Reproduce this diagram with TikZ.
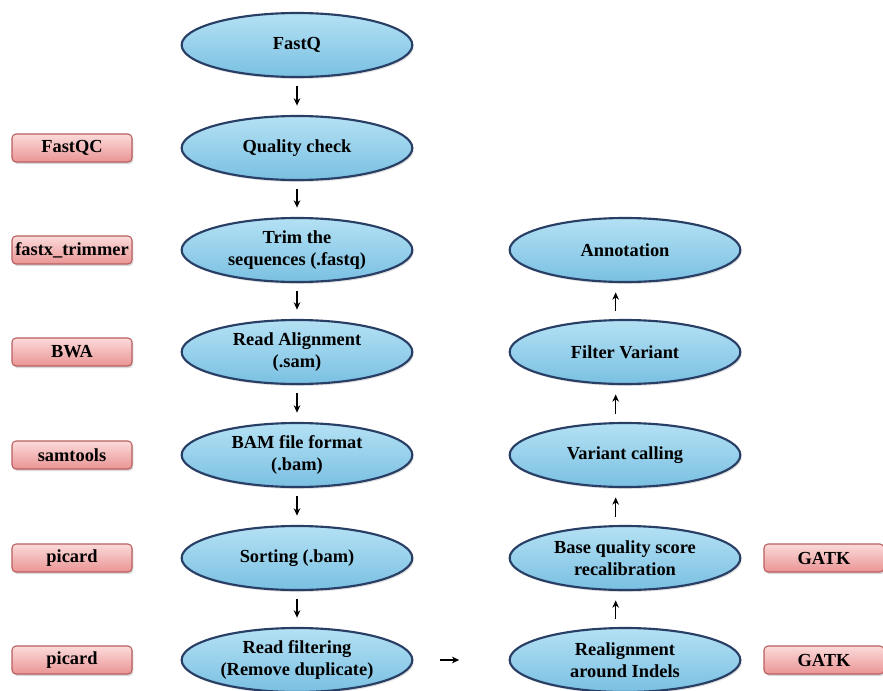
\documentclass[tikz,border=0pt]{standalone}
\usepackage{fontspec}
\setmainfont{Liberation Serif}
\usepackage{xcolor}
\usepackage{tikz}
\usetikzlibrary{shapes,arrows.meta,positioning,shadows}
\definecolor{ovaltop}{RGB}{180,225,244}
\definecolor{ovalbot}{RGB}{122,192,226}
\definecolor{ovaledge}{RGB}{40,62,100}
\definecolor{tooltop}{RGB}{252,218,218}
\definecolor{toolbot}{RGB}{234,148,148}
\definecolor{tooledge}{RGB}{185,95,95}
\tikzstyle{oval} = [ellipse, draw=ovaledge, line width=1.6pt, top color=ovaltop, bottom color=ovalbot, minimum width=173pt, minimum height=48pt, inner sep=0pt, align=center, font=\bfseries\fontsize{13.8}{16.5}\selectfont, drop shadow={opacity=0.25, shadow xshift=1pt, shadow yshift=-1.5pt}]
\tikzstyle{tool} = [rectangle, rounded corners=3pt, draw=tooledge, line width=0.8pt, top color=tooltop, bottom color=toolbot, minimum width=90pt, minimum height=21pt, inner sep=1pt, font=\bfseries\fontsize{13.8}{15}\selectfont, drop shadow={opacity=0.3, shadow xshift=1pt, shadow yshift=-1.5pt}]
\tikzstyle{arrow} = [-{Stealth[length=5.5pt,width=5pt]}, line width=0.9pt, shorten <=6pt, shorten >=7pt]

\begin{document}
\begin{tikzpicture}[x=0.75pt, y=-0.75pt]

% Page frame
\useasboundingbox (0,0) rectangle (883,690);

% Main pipeline (left column)
\node[oval] (fastq) at (297,45) {FastQ};
\node[oval] (qcheck) at (297,148) {Quality check};
\node[oval] (trim) at (297,250) {Trim the\\sequences (.fastq)};
\node[oval] (align) at (297,352) {Read Alignment\\(.sam)};
\node[oval] (bam) at (297,455) {BAM file format\\(.bam)};
\node[oval] (sort) at (297,558) {Sorting (.bam)};
\node[oval] (filter) at (297,660) {Read filtering\\(Remove duplicate)};

% Variant steps (right column)
\node[oval] (annot) at (625,250) {Annotation};
\node[oval] (filtvar) at (625,352) {Filter Variant};
\node[oval] (varcall) at (625,455) {Variant calling};
\node[oval] (bqsr) at (625,558) {Base quality score\\recalibration};
\node[oval] (realign) at (625,660) {Realignment\\around Indels};

% Tools
\node[tool] (fastqc) at (72,148) {FastQC};
\node[tool] (trimmer) at (72,250) {fastx\_trimmer};
\node[tool] (bwa) at (72,352) {BWA};
\node[tool] (samtools) at (72,455) {samtools};
\node[tool] (picardA) at (72,558) {picard};
\node[tool] (picardB) at (72,660) {picard};
\node[tool] (gatkA) at (824,558) {GATK};
\node[tool] (gatkB) at (824,660) {GATK};

% Arrows
\draw[arrow] (fastq) -- (qcheck);
\draw[arrow] (qcheck) -- (trim);
\draw[arrow] (trim) -- (align);
\draw[arrow] (align) -- (bam);
\draw[arrow] (bam) -- (sort);
\draw[arrow] (sort) -- (filter);
\draw[arrow, shorten <=20pt, shorten >=37pt] (filter) -- (realign);
\draw[arrow] ([xshift=-7pt]realign.north) -- ([xshift=-7pt]bqsr.south);
\draw[arrow] ([xshift=-7pt]bqsr.north) -- ([xshift=-7pt]varcall.south);
\draw[arrow] ([xshift=-7pt]varcall.north) -- ([xshift=-7pt]filtvar.south);
\draw[arrow] ([xshift=-7pt]filtvar.north) -- ([xshift=-7pt]annot.south);

\end{tikzpicture}
\end{document}
